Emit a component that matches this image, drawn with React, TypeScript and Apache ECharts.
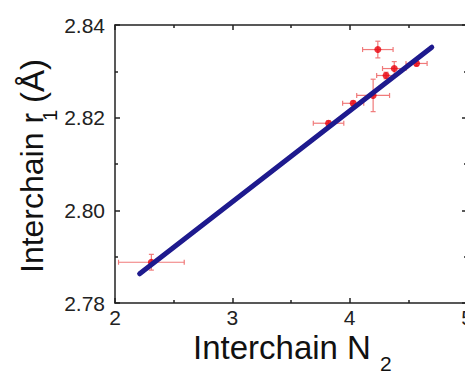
import React, { useEffect, useRef } from "react";
import * as echarts from "echarts";

// Data
const nValues = [2.31, 3.82, 4.03, 4.2, 4.31, 4.38, 4.24, 4.57];
const rValues = [2.7888, 2.8188, 2.8231, 2.8248, 2.8291, 2.8306, 2.8347, 2.8317];
const nErrors = [0.28, 0.13, 0.09, 0.14, 0.08, 0.1, 0.13, 0.09];
const rErrors = [0.0017, 0.0005, 0.0005, 0.0035, 0.0007, 0.0015, 0.0018, 0.0005];
const fitLineN = [2.21, 4.7];
const fitLineR = [2.7863, 2.8352];
const xTitle = "Interchain N";
const xTitleSub = "2";
const yTitle = "Interchain r";
const yTitleSub = "1";
const yTitleUnit = "(Å)";

const FONT = "'Liberation Sans', Arial, sans-serif";

export default function App() {
  const ref = useRef<HTMLDivElement>(null);
  useEffect(() => {
    if (!ref.current) return;
    const chart = echarts.init(ref.current, null, { renderer: "svg" });
    const points = nValues.map((n, i) => [n, rValues[i]]);
    const errData = nValues.map((n, i) => [n, rValues[i], nErrors[i], rErrors[i]]);
    const fitData = fitLineN.map((n, i) => [n, fitLineR[i]]);
    const axisLine = { show: true, lineStyle: { color: "#222", width: 1.5 } };
    const tick = { show: true, inside: true, length: 5, lineStyle: { color: "#222", width: 1.5 } };
    const minor = { show: true, splitNumber: 2, length: 3, lineStyle: { color: "#222", width: 1.5 } };
    const option: any = {
      animation: false,
      backgroundColor: "#fff",
      grid: { left: 115, top: 25, width: 352, height: 278, containLabel: false, outerBoundsMode: "none" },
      xAxis: [
        {
          type: "value",
          min: 2,
          max: 5,
          interval: 1,
          axisLine,
          axisTick: tick,
          minorTick: minor,
          splitLine: { show: false },
          axisLabel: {
            show: true,
            margin: 5,
            fontSize: 21,
            lineHeight: 18,
            color: "#222",
            fontFamily: FONT,
            formatter: (v: number) => String(Math.round(v)),
          },
        },
        {
          type: "value",
          position: "top",
          min: 2,
          max: 5,
          interval: 1,
          axisLine,
          axisTick: tick,
          minorTick: minor,
          splitLine: { show: false },
          axisLabel: { show: false },
        },
      ],
      yAxis: [
        {
          type: "value",
          min: 2.78,
          max: 2.84,
          interval: 0.02,
          axisLine,
          axisTick: tick,
          minorTick: minor,
          splitLine: { show: false },
          axisLabel: {
            show: true,
            margin: 10,
            fontSize: 21,
            lineHeight: 18,
            color: "#222",
            fontFamily: FONT,
            formatter: (v: number) => v.toFixed(2),
          },
        },
        {
          type: "value",
          position: "right",
          min: 2.78,
          max: 2.84,
          interval: 0.02,
          axisLine,
          axisTick: tick,
          minorTick: minor,
          splitLine: { show: false },
          axisLabel: { show: false },
        },
      ],
      series: [
        {
          type: "custom",
          xAxisIndex: 0,
          yAxisIndex: 0,
          data: errData,
          z: 2,
          renderItem: (params: any, api: any) => {
            const x = api.value(0);
            const y = api.value(1);
            const dx = api.value(2);
            const dy = api.value(3);
            const left = api.coord([x - dx, y]);
            const right = api.coord([x + dx, y]);
            const top = api.coord([x, y + dy]);
            const bottom = api.coord([x, y - dy]);
            const cap = 2.5;
            const style = { stroke: "#f07a7a", lineWidth: 1.2 };
            return {
              type: "group",
              children: [
                { type: "line", shape: { x1: left[0], y1: left[1], x2: right[0], y2: right[1] }, style },
                { type: "line", shape: { x1: left[0], y1: left[1] - cap, x2: left[0], y2: left[1] + cap }, style },
                { type: "line", shape: { x1: right[0], y1: right[1] - cap, x2: right[0], y2: right[1] + cap }, style },
                { type: "line", shape: { x1: top[0], y1: top[1], x2: bottom[0], y2: bottom[1] }, style },
                { type: "line", shape: { x1: top[0] - cap, y1: top[1], x2: top[0] + cap, y2: top[1] }, style },
                { type: "line", shape: { x1: bottom[0] - cap, y1: bottom[1], x2: bottom[0] + cap, y2: bottom[1] }, style },
              ],
            };
          },
        },
        {
          type: "scatter",
          data: points,
          symbol: "circle",
          symbolSize: 7,
          itemStyle: { color: "#e8000b" },
          z: 3,
        },
        {
          type: "line",
          data: fitData,
          symbol: "none",
          lineStyle: { color: "#1e1a8e", width: 5, cap: "round" },
          z: 4,
        },
      ],
      graphic: [
        {
          type: "text",
          x: 193,
          y: 347,
          style: { text: xTitle, font: `33px ${FONT}`, lineHeight: 26, fill: "#111", align: "left", verticalAlign: "middle" },
        },
        {
          type: "text",
          x: 380,
          y: 363,
          style: { text: xTitleSub, font: `21px ${FONT}`, lineHeight: 16, fill: "#111", align: "left", verticalAlign: "middle" },
        },
        {
          type: "text",
          x: 32,
          y: 273,
          rotation: Math.PI / 2,
          style: { text: yTitle, font: `32px ${FONT}`, lineHeight: 26, fill: "#111", align: "left", verticalAlign: "middle" },
        },
        {
          type: "text",
          x: 50,
          y: 121,
          rotation: Math.PI / 2,
          style: { text: yTitleSub, font: `20px ${FONT}`, lineHeight: 16, fill: "#111", align: "left", verticalAlign: "middle" },
        },
        {
          type: "text",
          x: 32,
          y: 103,
          rotation: Math.PI / 2,
          style: { text: yTitleUnit, font: `33px ${FONT}`, lineHeight: 26, fill: "#111", align: "left", verticalAlign: "middle" },
        },
      ],
    };
    chart.setOption(option);
    return () => chart.dispose();
  }, []);
  return (
    <div
      ref={ref}
      style={{ position: "absolute", left: 0, top: 0, width: 465, height: 372, background: "#fff" }}
    />
  );
}
